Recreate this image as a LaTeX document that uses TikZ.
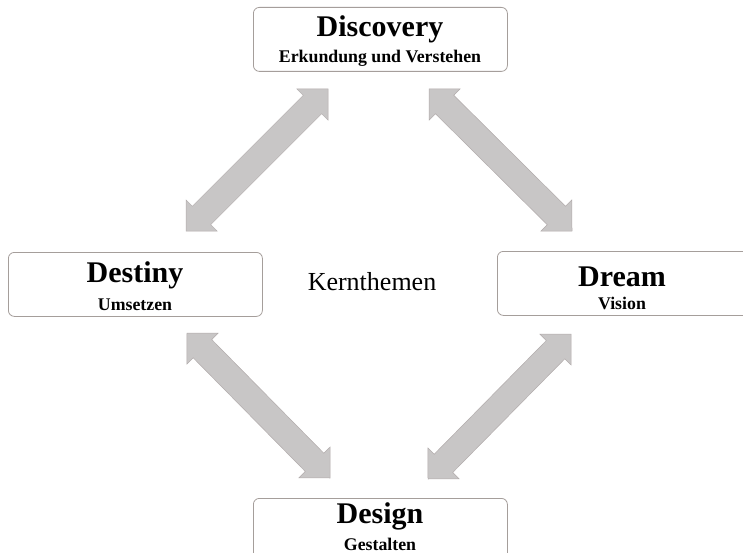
\documentclass[tikz,border=0pt]{standalone}
\usepackage{fontspec}
\setmainfont{Liberation Serif}
\usetikzlibrary{calc}
\definecolor{arrowgray}{RGB}{200,198,198}
\definecolor{arrowedge}{RGB}{178,172,172}
\definecolor{boxedge}{RGB}{165,158,155}
\newcommand\fatarrow[2]{%
  \filldraw[arrowstyle] (#1)
    -- ($(#1)!22pt!(#2)!22pt!90:(#2)$)
    -- ($(#1)!22pt!(#2)!13pt!90:(#2)$)
    -- ($(#2)!22pt!(#1)!13pt!-90:(#1)$)
    -- ($(#2)!22pt!(#1)!22pt!-90:(#1)$)
    -- (#2)
    -- ($(#2)!22pt!(#1)!22pt!90:(#1)$)
    -- ($(#2)!22pt!(#1)!13pt!90:(#1)$)
    -- ($(#1)!22pt!(#2)!13pt!-90:(#2)$)
    -- ($(#1)!22pt!(#2)!22pt!-90:(#2)$)
    -- cycle;}
\tikzset{
  stagebox/.style={draw=boxedge, line width=0.8pt, fill=white, rounded corners=6pt,
    minimum width=254pt, minimum height=64pt, inner sep=0pt, anchor=north west},
  titletext/.style={anchor=base, inner sep=0pt, font=\fontsize{30}{32}\selectfont\bfseries},
  subtext/.style={anchor=base, inner sep=0pt, font=\fontsize{17.8}{20}\selectfont\bfseries},
  centertext/.style={anchor=base, inner sep=0pt, font=\fontsize{26}{28}\selectfont},
  arrowstyle/.style={fill=arrowgray, draw=arrowedge, line width=0.5pt, line join=miter}
}
\begin{document}
\begin{tikzpicture}[x=1pt,y=-1pt]
\useasboundingbox (0,0) rectangle (743,553);
\clip (0,0) rectangle (743,553);
\fill[white] (0,0) rectangle (743,553);
% boxes
\node[stagebox] (discovery) at (253,7) {};
\node[stagebox] (destiny) at (8,252) {};
\node[stagebox] (dream) at (497,251) {};
\node[stagebox] (design) at (253,498) {};
% texts
\node[titletext] (t1) at (380,37) {Discovery};
\node[subtext] (s1) at (380,63) {Erkundung und Verstehen};
\node[titletext] (t2) at (135,282) {Destiny};
\node[subtext] (s2) at (135,310) {Umsetzen};
\node[titletext] (t3) at (622,286) {Dream};
\node[subtext] (s3) at (622,309) {Vision};
\node[titletext] (t4) at (380,523) {Design};
\node[subtext] (s4) at (380,550) {Gestalten};
\node[centertext] (kern) at (372,290) {Kernthemen};
% arrow tips
\coordinate (a1) at (186,231);
\coordinate (a2) at (328,89);
\coordinate (b1) at (429,89);
\coordinate (b2) at (572,231);
\coordinate (c1) at (187,333);
\coordinate (c2) at (330,478);
\coordinate (d1) at (571,334);
\coordinate (d2) at (428,479);
\fatarrow{a1}{a2}
\fatarrow{b1}{b2}
\fatarrow{c1}{c2}
\fatarrow{d1}{d2}
\end{tikzpicture}
\end{document}
